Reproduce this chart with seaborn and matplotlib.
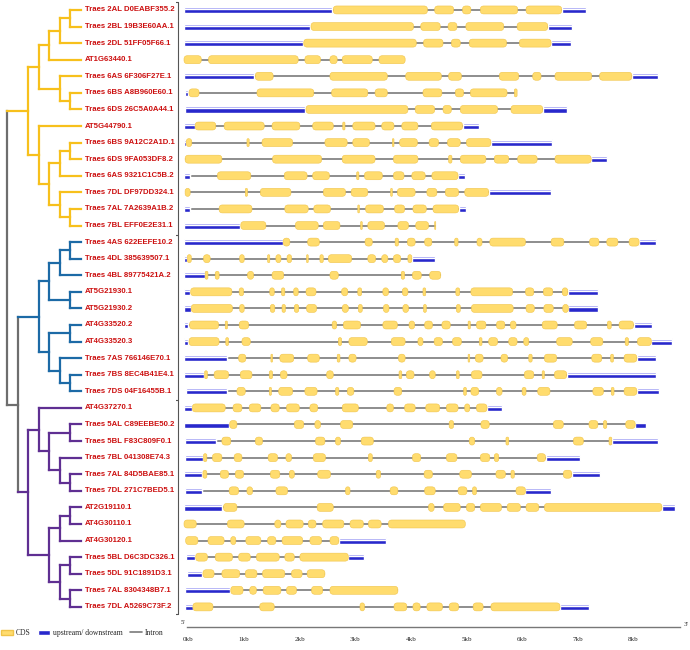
import matplotlib
matplotlib.use("Agg")
import matplotlib.pyplot as plt
from matplotlib import font_manager
from matplotlib.patches import FancyBboxPatch, Patch
from matplotlib.lines import Line2D
import seaborn as sns

# gene names, top to bottom
names = [
    "Traes 2AL D0EABF355.2", "Traes 2BL 19B3E60AA.1", "Traes 2DL 51FF05F66.1",
    "AT1G63440.1", "Traes 6AS 6F306F27E.1", "Traes 6BS A8B960E60.1",
    "Traes 6DS 26C5A0A44.1", "AT5G44790.1", "Traes 6BS 9A12C2A1D.1",
    "Traes 6DS 9FA053DF8.2", "Traes 6AS 9321C1C5B.2", "Traes 7DL DF97DD324.1",
    "Traes 7AL 7A2639A1B.2", "Traes 7BL EFF0E2E31.1",
    "Traes 4AS 622EEFE10.2", "Traes 4DL 385639507.1", "Traes 4BL 89775421A.2",
    "AT5G21930.1", "AT5G21930.2", "AT4G33520.2", "AT4G33520.3",
    "Traes 7AS 766146E70.1", "Traes 7BS 8EC4B41E4.1", "Traes 7DS 04F16455B.1",
    "AT4G37270.1", "Traes 5AL C89EEBE50.2", "Traes 5BL F83C809F0.1",
    "Traes 7BL 041308E74.3", "Traes 7AL 84D5BAE85.1", "Traes 7DL 271C7BED5.1",
    "AT2G19110.1", "AT4G30110.1", "AT4G30120.1", "Traes 5BL D6C3DC326.1",
    "Traes 5DL 91C1891D3.1", "Traes 7AL 8304348B7.1", "Traes 7DL A5269C73F.2",
]
clade = ["yellow"] * 14 + ["blue"] * 10 + ["purple"] * 13

# tree topology (leaf = row index)
yellow_tree = (((((0, 1), 2), 3), (4, (5, 6))),
               (7, (((8, 9), 10), (11, (12, 13)))))
blue_tree = ((((14, 15), 16), (17, 18)), ((19, 20), (21, (22, 23))))
purple_tree = ((24, ((25, 26), (27, (28, 29)))),
               (((30, 31), 32), ((33, 34), (35, 36))))
tree = (yellow_tree, (blue_tree, purple_tree))

# gene structures in kb
utr5 = [
    (0.0, 2.66), (0.0, 2.27), (0.0, 2.14), None, (0.0, 1.26), (0.02, 0.08),
    (0.02, 2.17), (0.0, 0.20), (0.0, 0.03), None, (0.0, 0.10), (0.0, 0.02),
    (0.0, 0.11), (0.0, 1.01), (0.0, 1.77), (0.0, 0.05), (0.0, 0.37),
    (0.0, 0.11), (0.0, 0.12), (0.0, 0.08), (0.0, 0.08), (0.0, 0.77),
    (0.0, 0.36), (0.03, 0.77), (0.0, 0.14), (0.0, 0.81), (0.01, 0.57),
    (0.02, 0.34), (0.0, 0.33), (0.02, 0.33), (0.0, 0.69), None, None,
    (0.03, 0.20), (0.05, 0.33), (0.01, 0.83), (0.02, 0.16),
]
utr3 = [
    (6.78, 7.22), (6.53, 6.96), (6.59, 6.95), None, (8.04, 8.51), None,
    (6.44, 6.87), (5.00, 5.29), (5.51, 6.60), (7.31, 7.59), (4.92, 5.05),
    (5.47, 6.58), (4.93, 5.07), None, (8.17, 8.48), (4.09, 4.51), None,
    (6.89, 7.43), (6.90, 7.44), (8.07, 8.41), (8.39, 8.76), (8.13, 8.48),
    (6.87, 8.48), (8.13, 8.52), (5.44, 5.71), (8.10, 8.30), (7.68, 8.51),
    (6.49, 7.11), (6.96, 7.46), (6.13, 6.59), (8.58, 8.81), None,
    (2.78, 3.63), (2.95, 3.23), None, None, (6.75, 7.27),
]
cds_exons = [
    [(2.68, 4.37), (4.50, 4.84), (5.00, 5.15), (5.32, 5.99), (6.14, 6.78)],
    [(2.28, 4.12), (4.25, 4.60), (4.74, 4.90), (5.06, 5.74), (5.98, 6.53)],
    [(2.15, 4.17), (4.30, 4.65), (4.80, 4.96), (5.12, 5.79), (6.02, 6.59)],
    [(0.0, 0.31), (0.44, 2.05), (2.17, 2.45), (2.62, 2.75), (2.84, 3.38), (3.50, 3.97)],
    [(1.28, 1.60), (2.62, 3.65), (3.98, 4.62), (4.75, 4.98), (5.66, 6.01), (6.26, 6.41),
     (6.66, 7.32), (7.46, 8.04)],
    [(0.09, 0.27), (1.31, 2.33), (2.65, 3.30), (3.43, 3.65), (4.29, 4.63), (4.87, 5.02),
     (5.14, 5.80), (5.93, 5.98)],
    [(2.19, 4.02), (4.15, 4.50), (4.65, 4.80), (4.96, 5.63), (5.87, 6.44)],
    [(0.20, 0.57), (0.72, 1.44), (1.58, 2.08), (2.31, 2.68), (2.85, 2.89), (3.03, 3.43),
     (3.55, 3.77), (3.91, 4.20), (4.44, 5.00)],
    [(0.04, 0.14), (1.13, 1.17), (1.40, 1.95), (2.53, 2.93), (3.03, 3.33), (3.74, 3.77),
     (3.87, 4.19), (4.40, 4.57), (4.73, 4.96), (5.07, 5.51)],
    [(0.02, 0.68), (1.59, 2.47), (2.84, 3.43), (3.76, 4.20), (4.75, 4.81), (4.96, 5.42),
     (5.57, 5.83), (5.99, 6.34), (6.66, 7.31)],
    [(0.60, 1.20), (1.80, 2.21), (2.31, 2.61), (3.10, 3.14), (3.24, 3.56), (3.76, 3.95),
     (4.09, 4.33), (4.45, 4.92)],
    [(0.02, 0.11), (1.10, 1.14), (1.37, 1.92), (2.50, 2.90), (3.00, 3.30), (3.71, 3.74),
     (3.83, 4.15), (4.36, 4.54), (4.69, 4.93), (5.04, 5.47)],
    [(0.63, 1.22), (1.81, 2.23), (2.33, 2.63), (3.12, 3.15), (3.26, 3.58), (3.78, 3.96),
     (4.11, 4.35), (4.47, 4.93)],
    [(1.02, 1.47), (2.00, 2.41), (2.50, 2.80), (3.17, 3.20), (3.30, 3.60), (3.84, 4.03),
     (4.16, 4.39), (4.50, 4.52)],
    [(1.78, 1.90), (2.22, 2.43), (3.25, 3.38), (3.79, 3.85), (4.01, 4.15), (4.32, 4.45),
     (4.86, 4.92), (5.26, 5.35), (5.49, 6.13), (6.59, 6.82), (7.28, 7.45), (7.59, 7.79),
     (7.99, 8.17)],
    [(0.06, 0.13), (0.35, 0.47), (1.00, 1.08), (1.50, 1.54), (1.65, 1.74), (1.85, 1.93),
     (2.20, 2.23), (2.44, 2.50), (2.59, 3.01), (3.30, 3.44), (3.55, 3.66), (3.76, 3.89),
     (4.02, 4.09)],
    [(0.38, 0.43), (0.56, 0.63), (1.14, 1.25), (1.58, 1.79), (2.62, 2.77), (3.90, 3.96),
     (4.10, 4.26), (4.41, 4.61)],
    [(0.12, 0.86), (0.99, 1.07), (1.54, 1.62), (1.75, 1.81), (1.97, 2.05), (2.19, 2.37),
     (2.83, 2.94), (3.12, 3.19), (3.57, 3.67), (3.92, 4.02), (4.29, 4.34), (4.88, 4.95),
     (5.15, 5.90), (6.13, 6.28), (6.45, 6.62), (6.79, 6.89)],
    [(0.13, 0.87), (1.00, 1.08), (1.55, 1.63), (1.76, 1.82), (1.98, 2.06), (2.20, 2.38),
     (2.84, 2.95), (3.13, 3.20), (3.58, 3.68), (3.93, 4.03), (4.30, 4.35), (4.89, 4.96),
     (5.16, 5.91), (6.14, 6.29), (6.46, 6.63), (6.80, 6.90)],
    [(0.10, 0.62), (0.74, 0.78), (0.99, 1.16), (2.66, 2.74), (2.86, 3.17), (3.57, 3.83),
     (4.04, 4.14), (4.32, 4.46), (4.63, 4.78), (5.10, 5.14), (5.25, 5.42), (5.61, 5.76),
     (5.86, 5.96), (6.43, 6.70), (7.01, 7.23), (7.60, 7.67), (7.81, 8.07)],
    [(0.09, 0.63), (0.75, 0.80), (1.04, 1.19), (2.77, 2.83), (2.96, 3.29), (3.72, 3.97),
     (4.20, 4.29), (4.49, 4.64), (4.82, 4.98), (5.30, 5.35), (5.47, 5.63), (5.83, 5.98),
     (6.10, 6.19), (6.69, 6.97), (7.30, 7.52), (7.92, 7.98), (8.14, 8.39)],
    [(0.98, 1.11), (1.56, 1.59), (1.72, 1.97), (2.22, 2.43), (2.75, 2.80), (2.96, 3.09),
     (3.85, 3.97), (5.10, 5.13), (5.23, 5.37), (5.69, 5.81), (6.19, 6.25), (6.47, 6.69),
     (7.32, 7.50), (7.66, 7.71), (7.90, 8.13)],
    [(0.37, 0.42), (0.54, 0.80), (1.01, 1.22), (1.53, 1.59), (1.73, 1.85), (2.56, 2.68),
     (3.86, 3.91), (3.99, 4.13), (4.41, 4.51), (4.89, 4.94), (5.16, 5.35), (6.11, 6.28),
     (6.43, 6.47), (6.65, 6.87)],
    [(0.95, 1.10), (1.53, 1.57), (1.70, 1.95), (2.17, 2.39), (2.72, 2.78), (2.93, 3.05),
     (3.77, 3.91), (5.02, 5.07), (5.15, 5.29), (5.61, 5.71), (6.07, 6.14), (6.35, 6.57),
     (7.34, 7.53), (7.67, 7.72), (7.90, 8.13)],
    [(0.15, 0.74), (0.88, 1.04), (1.17, 1.38), (1.56, 1.71), (1.84, 2.07), (2.26, 2.40),
     (2.84, 3.13), (3.64, 3.76), (3.96, 4.15), (4.34, 4.59), (4.71, 4.92), (5.04, 5.13),
     (5.25, 5.44)],
    [(0.82, 0.95), (1.98, 2.15), (2.35, 2.45), (2.81, 3.03), (4.76, 4.84), (5.33, 5.48),
     (6.63, 6.81), (7.27, 7.43), (7.53, 7.59), (7.93, 8.10)],
    [(0.68, 0.84), (1.28, 1.41), (2.36, 2.53), (2.72, 2.81), (3.18, 3.40), (5.12, 5.22),
     (5.78, 5.83), (6.99, 7.17), (7.63, 7.68)],
    [(0.35, 0.41), (0.51, 0.68), (0.90, 1.04), (1.51, 1.68), (1.83, 1.93), (2.32, 2.54),
     (3.31, 3.38), (4.10, 4.25), (4.71, 4.90), (5.32, 5.49), (5.57, 5.65), (6.34, 6.49)],
    [(0.34, 0.41), (0.65, 0.80), (0.92, 1.07), (1.55, 1.72), (1.89, 1.98), (2.40, 2.63),
     (3.45, 3.53), (4.31, 4.46), (4.95, 5.16), (5.60, 5.77), (5.87, 5.93), (6.81, 6.96)],
    [(0.81, 0.98), (1.13, 1.23), (1.65, 1.86), (2.90, 2.98), (3.70, 3.84), (4.32, 4.51),
     (4.92, 5.08), (5.18, 5.25), (5.96, 6.13)],
    [(0.71, 0.95), (2.39, 2.68), (4.39, 4.49), (4.66, 4.96), (5.07, 5.22), (5.32, 5.70),
     (5.80, 6.04), (6.14, 6.37), (6.47, 8.58)],
    [(0.0, 0.22), (0.78, 1.08), (1.63, 1.74), (1.83, 2.14), (2.23, 2.37), (2.49, 2.87),
     (2.98, 3.22), (3.31, 3.54), (3.67, 5.05)],
    [(0.03, 0.25), (0.43, 0.72), (0.84, 0.93), (1.11, 1.38), (1.50, 1.65), (1.76, 2.13),
     (2.26, 2.47), (2.62, 2.78)],
    [(0.21, 0.42), (0.56, 0.87), (0.98, 1.19), (1.30, 1.71), (1.81, 1.98), (2.08, 2.95)],
    [(0.34, 0.54), (0.68, 1.00), (1.10, 1.31), (1.41, 1.81), (1.93, 2.12), (2.21, 2.53)],
    [(0.84, 1.06), (1.18, 1.30), (1.42, 1.74), (1.84, 2.02), (2.29, 2.49), (2.62, 3.84)],
    [(0.16, 0.52), (1.36, 1.62), (3.16, 3.24), (3.77, 4.00), (4.11, 4.24), (4.36, 4.64),
     (4.76, 4.93), (5.19, 5.37), (5.51, 6.75)],
]
kb_ticks = list(range(9))
kb_labels = [f"{k}kb" for k in kb_ticks]

clade_colors = {"yellow": "#F7C01C", "blue": "#1C6AA6", "purple": "#5F2F92"}
root_gray = "#6e6e6e"
cds_color, cds_edge = "#FFDC6E", "#F0C44A"
utr_color, utr_light = "#2828CC", "#8C8CF2"
intron_color = "#7a7a7a"
label_red = "#CC1010"

sns.set_theme(style="white")
plt.rcParams["font.family"] = ["Liberation Sans", "DejaVu Sans"]

# narrow face if there is one, otherwise a smaller regular face
installed = {f.name for f in font_manager.fontManager.ttflist}
if "Liberation Sans Narrow" in installed:
    label_font, label_size = "Liberation Sans Narrow", 6.6
else:
    label_font, label_size = "Liberation Sans", 5.6

fig = plt.figure(figsize=(6.9, 6.5), dpi=100)
ylim = (38.6, -0.6)

# ---------------- tree ----------------
ax_tree = fig.add_axes([0, 0, 88 / 690, 1])
ax_tree.set_xlim(-7.714, 0.667)
ax_tree.set_ylim(*ylim)
ax_tree.axis("off")


def draw_node(node):
    if isinstance(node, int):
        return 0, node, clade_colors[clade[node]]
    parts = [draw_node(c) for c in node]
    h = max(p[0] for p in parts) + 1
    ys = [p[1] for p in parts]
    y = (min(ys) + max(ys)) / 2
    cols = {p[2] for p in parts}
    col = cols.pop() if len(cols) == 1 else root_gray
    ax_tree.plot([-h, -h], [min(ys), max(ys)], color=col, lw=1.6,
                 solid_capstyle="projecting")
    for ch, cy, cc in parts:
        ax_tree.plot([-h, -ch], [cy, cy], color=cc, lw=1.6,
                     solid_capstyle="projecting")
    return h, y, col


draw_node(tree)

for i, name in enumerate(names):
    ax_tree.annotate(name, xy=(0, i), xytext=(3, 0), textcoords="offset points",
                     va="center", ha="left", color=label_red, fontsize=label_size,
                     fontweight="bold", family=label_font, annotation_clip=False)

# ---------------- gene structures ----------------
ax = fig.add_axes([175.6 / 690, 0, 510 / 690, 1])
ax.set_xlim(-0.151, 9.005)
ax.set_ylim(*ylim)
ax.axis("off")

cds_h = 0.48
aspect = 55.7 / 16.58
for i in range(len(names)):
    pieces = [p for p in [utr5[i], utr3[i]] if p] + cds_exons[i]
    start = min(p[0] for p in pieces)
    end = max(p[1] for p in pieces)
    ax.hlines(i, start, end, color=intron_color, lw=1.2, zorder=1)
    for u in (utr5[i], utr3[i]):
        if u:
            ax.barh(i, u[1] - u[0], left=u[0], height=0.38, color=utr_color, zorder=2)
            ax.barh(i - 0.12, u[1] - u[0], left=u[0], height=0.12,
                    color=utr_light, zorder=2)
    for s, e in cds_exons[i]:
        w = e - s
        r = min(0.06, w / 2, cds_h / aspect / 2)
        box = FancyBboxPatch((s, i - cds_h / 2), w, cds_h,
                             boxstyle=f"round,pad=0,rounding_size={r}",
                             mutation_aspect=aspect, facecolor=cds_color,
                             edgecolor=cds_edge, lw=0.4, zorder=3)
        ax.add_patch(box)

# bracket along the left of the gene panel
bx = -0.11
ax.plot([bx, bx], [-0.45, 36.45], color="#555555", lw=0.8)
for yb in [-0.45, 13.55, 23.55, 36.45]:
    ax.plot([bx - 0.05, bx], [yb, yb], color="#555555", lw=0.8)

# ---------------- scale ----------------
ax_s = fig.add_axes([186.7 / 690, 23 / 650, (680 - 186.7) / 690, 0.01])
ax_s.set_xlim(-0.029, 8.84)
ax_s.set_yticks([])
ax_s.set_xticks(kb_ticks)
ax_s.set_xticklabels(kb_labels, family="Liberation Serif", fontsize=5)
for side in ["top", "left", "right"]:
    ax_s.spines[side].set_visible(False)
ax_s.spines["bottom"].set_color("#777777")
ax_s.spines["bottom"].set_linewidth(1.0)
ax_s.patch.set_alpha(0)
ax_s.tick_params(axis="x", direction="in", length=4, color="#777777", pad=7)
fig.text(183 / 690, 1 - 622 / 650, "5'", fontsize=5, family="Liberation Serif",
         ha="center", va="center")
fig.text(686 / 690, 1 - 624 / 650, "3'", fontsize=5, family="Liberation Serif",
         ha="center", va="center")

# ---------------- legend ----------------
handles = [
    Patch(facecolor=cds_color, edgecolor=cds_edge, label="CDS"),
    Patch(facecolor=utr_color, label="upstream/ downstream"),
    Line2D([], [], color=intron_color, lw=1.2, label="Intron"),
]
fig.legend(handles=handles, loc="center left", bbox_to_anchor=(0.002, 1 - 633 / 650),
           ncol=3, frameon=False, handlelength=1.5, handleheight=0.6,
           handletextpad=0.4, columnspacing=1.0, borderaxespad=0, borderpad=0,
           prop={"family": "Liberation Serif", "size": 5.5})

fig.savefig("out.png", dpi=100)
